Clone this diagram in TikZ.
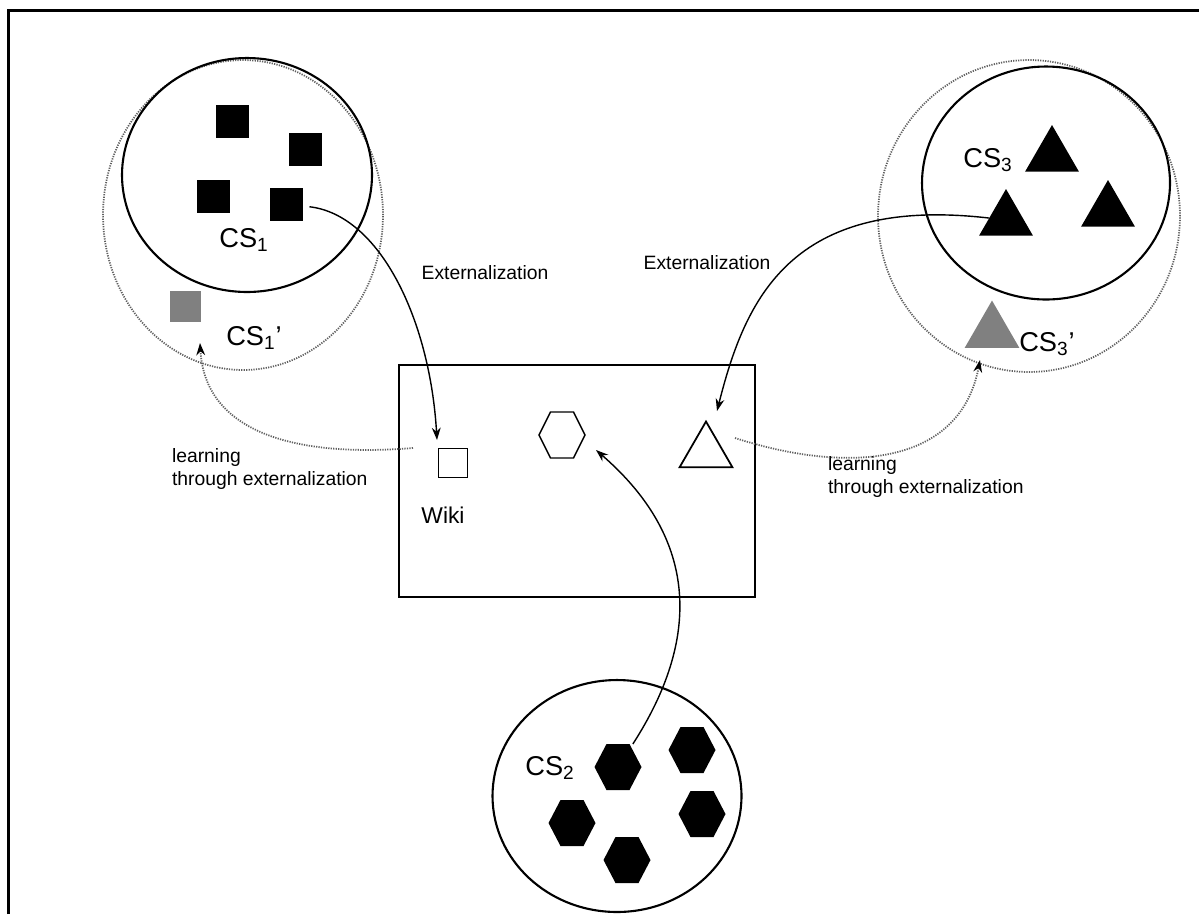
\documentclass[tikz,border=0pt]{standalone}
\usepackage{fontspec}
\setmainfont{Liberation Sans}
\usetikzlibrary{shapes.geometric,arrows.meta}
\begin{document}
\begin{tikzpicture}[x=0.02cm,y=-0.02cm,
  every node/.style={inner sep=0pt, outer sep=0pt},
  cs/.style={ellipse, draw, line width=1.2pt},
  csd/.style={ellipse, draw=gray!75!black, dash pattern=on 0.7pt off 0.7pt, line width=1pt},
  blksq/.style={rectangle, fill=black, minimum size=0.66cm},
  greysq/.style={rectangle, fill=gray, minimum size=0.62cm},
  blktri/.style={regular polygon, regular polygon sides=3, fill=black, minimum size=1.24cm},
  greytri/.style={regular polygon, regular polygon sides=3, fill=gray, minimum size=1.26cm},
  otri/.style={regular polygon, regular polygon sides=3, draw, line width=1pt, minimum size=1.22cm},
  blkhex/.style={rectangle, minimum width=0.94cm, minimum height=0.92cm,
    path picture={\fill[black, shift={(path picture bounding box.center)}]
      (-23.5,0) -- (-11.5,-23) -- (11.5,-23) -- (23.5,0) -- (11.5,23) -- (-11.5,23) -- cycle;}},
  ohex/.style={rectangle, minimum width=0.96cm, minimum height=0.96cm,
    path picture={\draw[black, line width=0.8pt, shift={(path picture bounding box.center)}]
      (-23,0) -- (-11.5,-23) -- (11.5,-23) -- (23,0) -- (11.5,23) -- (-11.5,23) -- cycle;}},
  cslbl/.style={font=\fontsize{15.5}{18}\selectfont},
  lbl/.style={font=\fontsize{11}{13}\selectfont, align=left},
  conn/.style={line width=0.8pt, -{Stealth[length=7pt,width=5pt]}},
  lconn/.style={gray!75!black, dash pattern=on 0.7pt off 0.7pt, line width=1pt, -{Stealth[length=7pt,width=5pt,color=black]}}
]
\useasboundingbox (0,0) rectangle (1199,914);
% frame
\draw[line width=1.7pt] (8.5,914) -- (8.5,10) -- (1199,10);

% CS1 group
\node[csd, minimum width=5.6cm, minimum height=6.2cm] (cs1p) at (243,215) {};
\node[cs, minimum width=5cm, minimum height=4.68cm] (cs1) at (247,175) {};
\node[blksq] (s1) at (232,121) {};
\node[blksq] (s2) at (305,149) {};
\node[blksq] (s3) at (213,196) {};
\node[blksq] (s4) at (286,204) {};
\node[cslbl] (l1) at (244,240) {CS\textsubscript{1}};
\node[greysq] (g1) at (185,306) {};
\node[cslbl] (l1p) at (254,338) {CS\textsubscript{1}'};

% CS3 group
\node[csd, minimum width=6.04cm, minimum height=6.24cm] (cs3p) at (1029,216) {};
\node[cs, minimum width=4.96cm, minimum height=4.66cm] (cs3) at (1046,183) {};
\node[blktri] (t1) at (1052,156) {};
\node[blktri] (t2) at (1006,220) {};
\node[blktri] (t3) at (1108,211) {};
\node[greytri] (t4) at (992,332) {};
\node[cslbl] (l3) at (988,160) {CS\textsubscript{3}};
\node[cslbl] (l3p) at (1047,344) {CS\textsubscript{3}'};

% Wiki
\node[draw, line width=1.3pt, minimum width=7.12cm, minimum height=4.64cm] (wiki) at (577,481) {};
\node[draw, line width=1pt, minimum size=0.58cm] (wsq) at (453,463) {};
\node[font=\fontsize{13}{15}\selectfont] (wl) at (443,515) {Wiki};
\node[ohex] (hx) at (562,435) {};
\node[otri] (tro) at (706,452) {};

% CS2 group
\node[cs, minimum width=4.98cm, minimum height=4.64cm] (cs2) at (617,796) {};
\node[blkhex] (h1) at (618,767) {};
\node[blkhex] (h2) at (692,750) {};
\node[blkhex] (h3) at (572,823) {};
\node[blkhex] (h4) at (702,814) {};
\node[blkhex] (h5) at (627,860) {};
\node[cslbl] (l2) at (550,768) {CS\textsubscript{2}};

% labels
\node[lbl] (x1) at (485,273) {Externalization};
\node[lbl] (x2) at (707,263) {Externalization};
\node[lbl, anchor=west] (ll) at (172,469) {learning\\through externalization};
\node[lbl, anchor=west] (lr) at (828,477) {learning\\through externalization};

% connectors
\coordinate (e1) at (437,440);
\draw[conn, shorten <=4pt] (s4) .. controls (380,215) and (430,320) .. (e1);
\coordinate (e2) at (717,411);
\draw[conn] (t2) .. controls (790,195) and (745,300) .. (e2);
\coordinate (e3) at (596,450);
\draw[conn] (h1) .. controls (700,640) and (700,540) .. (e3);
\coordinate (b4) at (413,448);
\coordinate (e4) at (200,343);
\draw[lconn] (b4) .. controls (290,458) and (205,430) .. (e4);
\coordinate (b5) at (735,438);
\coordinate (e5) at (980,360);
\draw[lconn] (b5) .. controls (850,475) and (960,465) .. (e5);
\end{tikzpicture}
\end{document}
